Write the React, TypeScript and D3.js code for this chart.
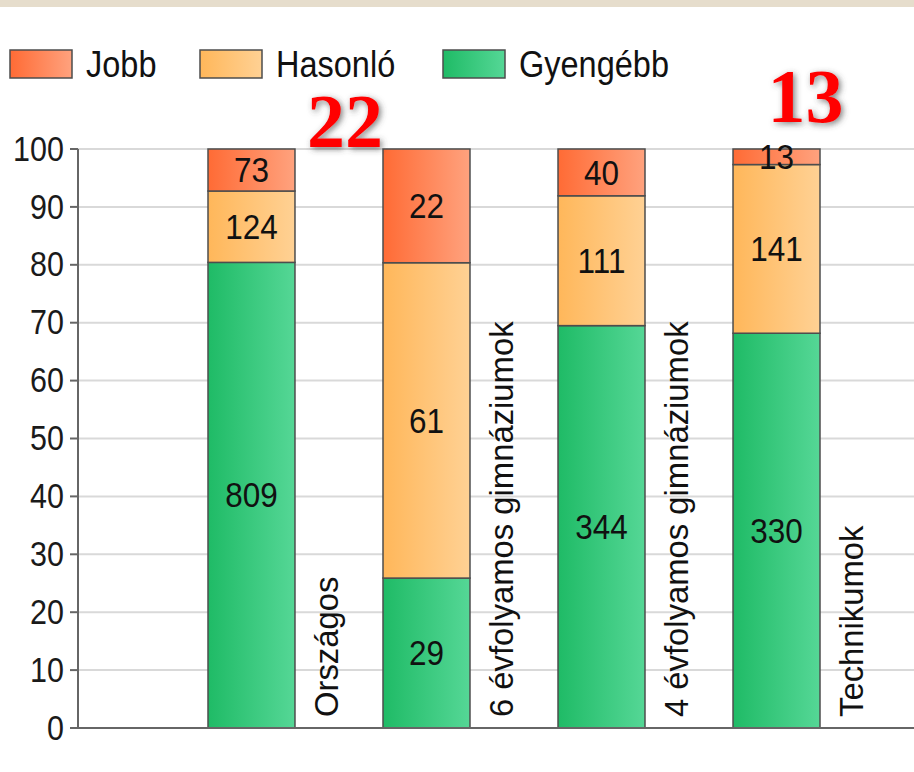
import React, { useRef, useEffect } from 'react';
import * as d3 from 'd3';

// categories + counts per group (percent of bar is computed from the counts)
const categories = ['Országos', '6 évfolyamos gimnáziumok', '4 évfolyamos gimnáziumok', 'Technikumok'];
const seriesNames = ['Gyengébb', 'Hasonló', 'Jobb'];
const gyengebb = [809, 29, 344, 330];
const hasonlo = [124, 61, 111, 141];
const jobb = [73, 22, 40, 13];
const legendOrder = ['Jobb', 'Hasonló', 'Gyengébb'];
// red callouts drawn above two of the bars
const calloutCats = ['6 évfolyamos gimnáziumok', 'Technikumok'];
const calloutText = ['22', '13'];

const W = 914;
const H = 772;
const FONT = '"Liberation Sans", Arial, sans-serif';
// the screenshot text is a bit taller than it is wide
const STRETCH = 1.12;

// left (dark) -> right (light) gradient per series
const colors: Record<string, [string, string]> = {
  Jobb: ['#ff6b35', '#ffa27e'],
  'Hasonló': ['#ffb75a', '#ffd194'],
  'Gyengébb': ['#1fbb66', '#55d796'],
};

export default function App() {
  const svgRef = useRef<SVGSVGElement>(null);

  useEffect(() => {
    document.body.style.margin = '0';
    const svg = d3.select(svgRef.current);
    svg.selectAll('*').remove();

    const rows = categories.map((c, i) => {
      const total = gyengebb[i] + hasonlo[i] + jobb[i];
      return {
        cat: c,
        'Gyengébb': (gyengebb[i] / total) * 100,
        'Hasonló': (hasonlo[i] / total) * 100,
        Jobb: (jobb[i] / total) * 100,
        counts: { 'Gyengébb': gyengebb[i], 'Hasonló': hasonlo[i], Jobb: jobb[i] } as Record<string, number>,
      };
    });
    const stacked = d3.stack<any>().keys(seriesNames)(rows);

    const axisX = 78;
    const x = d3.scaleBand().domain(categories).range([208, 820]).paddingInner(0.503);
    const y = d3.scaleLinear().domain([0, 100]).range([728, 149]);

    // background strip at the very top
    svg.append('rect').attr('x', 0).attr('y', 0).attr('width', W).attr('height', 7).attr('fill', '#e6ddcc');
    svg.append('rect').attr('x', 0).attr('y', 7).attr('width', W).attr('height', H - 7).attr('fill', '#ffffff');

    const defs = svg.append('defs');
    Object.entries(colors).forEach(([k, [c0, c1]], i) => {
      const g = defs.append('linearGradient').attr('id', 'grad' + i).attr('x1', 0).attr('x2', 1).attr('y1', 0).attr('y2', 0);
      g.append('stop').attr('offset', '0%').attr('stop-color', c0);
      g.append('stop').attr('offset', '100%').attr('stop-color', c1);
    });
    const gradId = (k: string) => 'url(#grad' + Object.keys(colors).indexOf(k) + ')';

    const shadow = defs.append('filter').attr('id', 'shadow').attr('x', '-30%').attr('y', '-30%').attr('width', '160%').attr('height', '160%');
    shadow.append('feDropShadow').attr('dx', 2).attr('dy', 2).attr('stdDeviation', 3).attr('flood-color', '#444').attr('flood-opacity', 0.7);

    // gridlines
    const ticks = y.ticks(10);
    svg.append('g')
      .selectAll('line')
      .data(ticks.filter((t) => t > 0))
      .join('line')
      .attr('x1', axisX)
      .attr('x2', W)
      .attr('y1', (d) => y(d))
      .attr('y2', (d) => y(d))
      .attr('stroke', '#d9d9d9')
      .attr('stroke-width', 2);

    // bars
    const layers = svg.append('g')
      .selectAll('g')
      .data(stacked)
      .join('g')
      .attr('fill', (s) => gradId(s.key));
    layers.selectAll('rect')
      .data((s) => s)
      .join('rect')
      .attr('x', (d: any) => x(d.data.cat)!)
      .attr('width', x.bandwidth())
      .attr('y', (d) => y(d[1]))
      .attr('height', (d) => y(d[0]) - y(d[1]))
      .attr('stroke', '#4d4d4d')
      .attr('stroke-width', 1.5);

    // value labels (counts) in the middle of each segment
    stacked.forEach((s) => {
      svg.append('g')
        .selectAll('text')
        .data(s)
        .join('text')
        .attr('transform', (d: any) => `translate(${x(d.data.cat)! + x.bandwidth() / 2},${y((d[0] + d[1]) / 2)}) scale(1,${STRETCH})`)
        .attr('text-anchor', 'middle')
        .attr('dominant-baseline', 'central')
        .attr('font-family', FONT)
        .attr('font-size', 31.5)
        .attr('fill', '#111')
        .text((d: any) => d.data.counts[s.key]);
    });

    // axes
    svg.append('line').attr('x1', axisX).attr('x2', axisX).attr('y1', y(100)).attr('y2', y(0)).attr('stroke', '#666').attr('stroke-width', 2);
    svg.append('line').attr('x1', axisX).attr('x2', W).attr('y1', y(0)).attr('y2', y(0)).attr('stroke', '#666').attr('stroke-width', 2);
    svg.append('g')
      .selectAll('line')
      .data(ticks)
      .join('line')
      .attr('x1', 70)
      .attr('x2', axisX)
      .attr('y1', (d) => y(d))
      .attr('y2', (d) => y(d))
      .attr('stroke', '#666')
      .attr('stroke-width', 2);
    svg.append('g')
      .selectAll('text')
      .data(ticks)
      .join('text')
      .attr('transform', (d) => `translate(64,${y(d)}) scale(1,${STRETCH})`)
      .attr('text-anchor', 'end')
      .attr('dominant-baseline', 'central')
      .attr('font-family', FONT)
      .attr('font-size', 30.5)
      .attr('fill', '#1a1a1a')
      .text((d) => d);

    // category labels, rotated, next to each bar
    svg.append('g')
      .selectAll('text')
      .data(categories)
      .join('text')
      .attr('transform', (c) => `translate(${x(c)! + x.bandwidth() + 43},717) rotate(-90)`)
      .attr('font-family', FONT)
      .attr('font-size', 32.8)
      .attr('fill', '#111')
      .text((c) => c);

    // legend
    const legendX = [10, 200, 443];
    const lg = svg.append('g')
      .selectAll('g')
      .data(legendOrder)
      .join('g')
      .attr('transform', (d, i) => `translate(${legendX[i]},50)`);
    lg.append('rect').attr('width', 62).attr('height', 28).attr('fill', (d) => gradId(d)).attr('stroke', '#4d4d4d').attr('stroke-width', 1.5);
    lg.append('text')
      .attr('transform', `translate(76,14) scale(1,${STRETCH})`)
      .attr('dominant-baseline', 'central')
      .attr('font-family', FONT)
      .attr('font-size', 32.5)
      .attr('fill', '#111')
      .text((d) => d);

    // red callouts
    svg.append('text')
      .attr('x', x(calloutCats[0])!)
      .attr('y', y(100) - 2)
      .attr('text-anchor', 'end')
      .attr('font-family', '"Liberation Serif", "Times New Roman", serif')
      .attr('font-weight', 'bold')
      .attr('font-size', 76)
      .attr('fill', '#ff0000')
      .attr('filter', 'url(#shadow)')
      .text(calloutText[0]);
    svg.append('text')
      .attr('x', x(calloutCats[1])! + x.bandwidth() / 2 + 29)
      .attr('y', y(100) - 27)
      .attr('text-anchor', 'middle')
      .attr('font-family', '"Liberation Serif", "Times New Roman", serif')
      .attr('font-weight', 'bold')
      .attr('font-size', 76)
      .attr('fill', '#ff0000')
      .attr('filter', 'url(#shadow)')
      .text(calloutText[1]);
  }, []);

  return <svg ref={svgRef} width={W} height={H} style={{ display: 'block' }} />;
}
